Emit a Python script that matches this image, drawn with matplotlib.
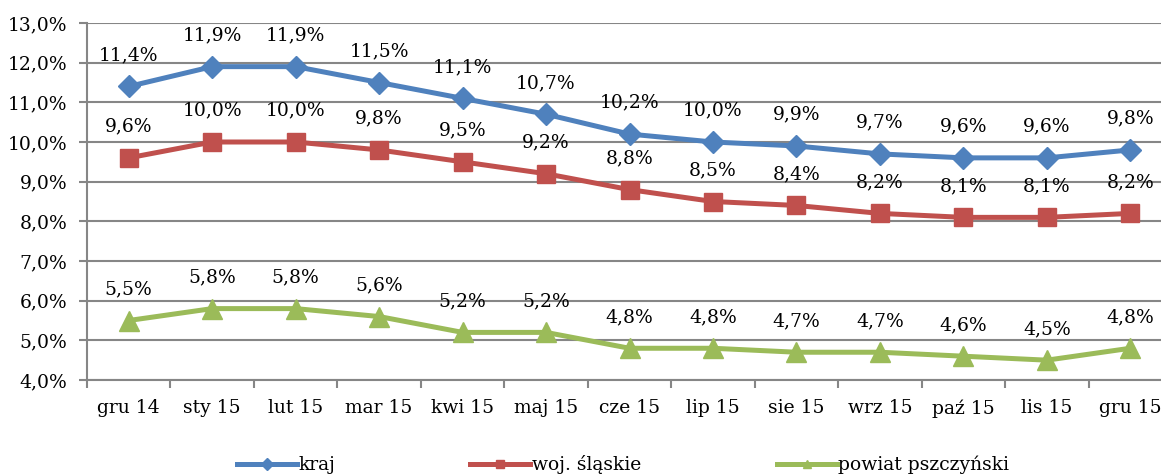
import numpy as np
import matplotlib

matplotlib.use('Agg')
import matplotlib.pyplot as plt
from matplotlib.lines import Line2D

plt.rcParams['font.family'] = ['DejaVu Serif']

months = ['gru 14', 'sty 15', 'lut 15', 'mar 15', 'kwi 15', 'maj 15', 'cze 15',
          'lip 15', 'sie 15', 'wrz 15', 'paź 15', 'lis 15', 'gru 15']
kraj = [11.4, 11.9, 11.9, 11.5, 11.1, 10.7, 10.2, 10.0, 9.9, 9.7, 9.6, 9.6, 9.8]
woj = [9.6, 10.0, 10.0, 9.8, 9.5, 9.2, 8.8, 8.5, 8.4, 8.2, 8.1, 8.1, 8.2]
powiat = [5.5, 5.8, 5.8, 5.6, 5.2, 5.2, 4.8, 4.8, 4.7, 4.7, 4.6, 4.5, 4.8]

series = [('kraj', kraj, '#4F81BD', 'D', 11),
          ('woj. śląskie', woj, '#C0504D', 's', 13),
          ('powiat pszczyński', powiat, '#9BBB59', '^', 14)]

fig = plt.figure(figsize=(11.61, 4.76), dpi=100)
ax = fig.add_axes([87 / 1161, 1 - 380 / 476, 1085 / 1161, 357 / 476])

x = np.arange(len(months))
handles = []
for name, vals, col, mk, ms in series:
    ax.plot(x, vals, color=col, lw=3.6, marker=mk, markersize=ms, zorder=3, clip_on=False)
    for xi, v in zip(x, vals):
        ax.annotate(('%.1f%%' % v).replace('.', ','), (xi, v), xytext=(0, 16),
                    textcoords='offset points', ha='center', va='bottom', fontsize=13.5)
    handles.append(Line2D([], [], color=col, lw=3.6, marker=mk, markersize=6))

ax.set_xlim(-0.5, 12.5)
ax.set_ylim(4, 13)
ax.set_yticks(np.arange(4, 13.1, 1))
ax.set_yticklabels([('%.1f%%' % t).replace('.', ',') for t in np.arange(4, 13.1, 1)])
ax.set_xticks(x)
ax.set_xticklabels(months)
ax.set_xticks(np.arange(-0.5, 12.6, 1), minor=True)
ax.tick_params(axis='x', which='major', length=0, pad=14, labelsize=13.5)
ax.tick_params(axis='x', which='minor', length=6, width=1.5, color='#868686')
ax.tick_params(axis='y', length=6, width=1.5, color='#868686', pad=8, labelsize=13.5)
ax.grid(axis='y', color='#868686', lw=1.5)
ax.set_axisbelow(True)
for s in ['top', 'right']:
    ax.spines[s].set_visible(False)
for s in ['left', 'bottom']:
    ax.spines[s].set_color('#868686')
    ax.spines[s].set_linewidth(1.5)

fig.legend(handles, [s[0] for s in series], loc='center', ncol=3,
           bbox_to_anchor=(623 / 1161, 1 - 465 / 476), frameon=False, fontsize=13.5,
           handlelength=3.2, handletextpad=0.1, columnspacing=7.2)

fig.savefig('out.png', dpi=100)
